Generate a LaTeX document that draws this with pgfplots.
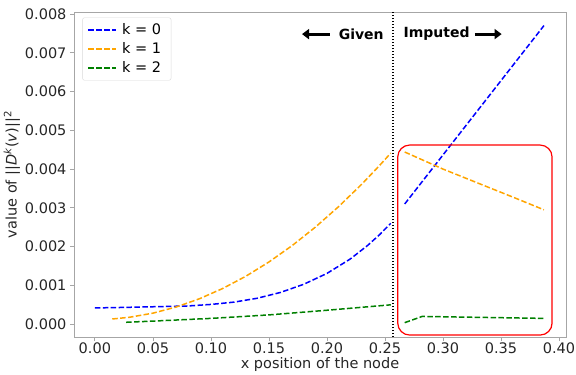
\documentclass[border=0pt]{standalone}
\usepackage{pgfplots}
\pgfplotsset{compat=1.18}
\usepackage{fontspec}
\setmainfont{DejaVu Sans}
\setsansfont{DejaVu Sans}
\usetikzlibrary{calc,arrows.meta}
\definecolor{mplorange}{RGB}{255,165,0}
\definecolor{mplgreen}{RGB}{0,128,0}
\tikzset{mpldash/.style={line width=1.5pt, dash pattern=on 5.5pt off 2.4pt}}
\begin{document}
\begin{tikzpicture}
\begin{axis}[
  name=ax,
  scale only axis,
  width=492pt, height=325pt,
  xmin=-0.018, xmax=0.406,
  ymin=-0.00033, ymax=0.00805,
  xtick={0,0.05,...,0.401},
  ytick={0,0.001,...,0.0081},
  scaled x ticks=false, scaled y ticks=false,
  xticklabel style={yshift=2pt, /pgf/number format/.cd,fixed,fixed zerofill,precision=2},
  yticklabel style={/pgf/number format/.cd,fixed,fixed zerofill,precision=3},
  /pgf/number format/assume math mode=true,
  tick align=outside,
  tick pos=left,
  major tick length=4pt,
  axis line style={gray!70, line width=0.8pt},
  tick style={gray!70, line width=0.8pt},
  ticklabel style={font=\fontsize{14.5}{16}\selectfont, text=black!85},
  label style={font=\fontsize{14.5}{16}\selectfont, text=black!85},
  xlabel={x position of the node},
  ylabel={value of ||\textit{D}\textsuperscript{\textit{k}}(\textit{v})||\textsuperscript{2}},
  xlabel style={yshift=3pt},
  ylabel style={yshift=-2pt},
  legend style={font=\fontsize{14.5}{17}\selectfont, draw=gray!30, rounded corners=2pt, at={(0.017,0.983)}, anchor=north west, row sep=2.5pt, inner xsep=5pt, inner ysep=4pt, nodes={inner xsep=5pt}},
  legend image code/.code={\draw[#1] (0pt,0pt) -- (28pt,0pt);},
  legend cell align=left,
]
\addplot[blue, mpldash] coordinates {(0.0,0.00042)(0.02,0.00043)(0.05,0.00045)(0.08,0.00047)(0.10,0.00051)(0.12,0.00057)(0.14,0.00067)(0.16,0.00082)(0.18,0.00103)(0.20,0.00131)(0.22,0.00168)(0.235,0.00203)(0.245,0.0023)(0.255,0.0026)};
\addlegendentry{k = 0}
\addplot[mplorange, mpldash] coordinates {(0.015,0.000135)(0.03,0.00018)(0.05,0.000285)(0.07,0.000443)(0.09,0.000655)(0.11,0.000919)(0.13,0.001235)(0.15,0.001605)(0.17,0.002027)(0.19,0.002503)(0.21,0.003031)(0.23,0.003611)(0.245,0.004082)(0.255,0.004412)};
\addlegendentry{k = 1}
\addplot[mplgreen, mpldash] coordinates {(0.027,0.00005)(0.05,0.00008)(0.10,0.00015)(0.15,0.00024)(0.20,0.00036)(0.255,0.0005)};
\addlegendentry{k = 2}
\addplot[blue, mpldash, forget plot] coordinates {(0.267,0.0031)(0.387,0.0077)};
\addplot[mplorange, mpldash, forget plot] coordinates {(0.267,0.00444)(0.30,0.0040)(0.33,0.00364)(0.36,0.00328)(0.387,0.00295)};
\addplot[mplgreen, mpldash, forget plot] coordinates {(0.267,0.00004)(0.282,0.0002)(0.387,0.00015)};
\draw[black, line width=1.5pt, dash pattern=on 1.5pt off 1.5pt] (axis cs:0.257,-0.00033) -- (axis cs:0.257,0.00805);
\draw[red, line width=1.2pt, rounded corners=12pt] (axis cs:0.261,-0.00028) rectangle (axis cs:0.394,0.00462);
\node[font=\bfseries\fontsize{14}{16}\selectfont] at (axis cs:0.2295,0.00748) {Given};
\node[font=\bfseries\fontsize{14}{16}\selectfont] at (axis cs:0.2945,0.00748) {Imputed};
\draw[line width=2.8pt, -{Triangle[length=7pt,width=10pt]}] (axis cs:0.2025,0.00748) -- (axis cs:0.1785,0.00748);
\draw[line width=2.8pt, -{Triangle[length=7pt,width=10pt]}] (axis cs:0.3275,0.00748) -- (axis cs:0.3505,0.00748);
\end{axis}
\pgfresetboundingbox
\useasboundingbox ($(ax.south west)+(-74pt,-37pt)$) rectangle ($(ax.north east)+(10pt,12pt)$);
\end{tikzpicture}
\end{document}
